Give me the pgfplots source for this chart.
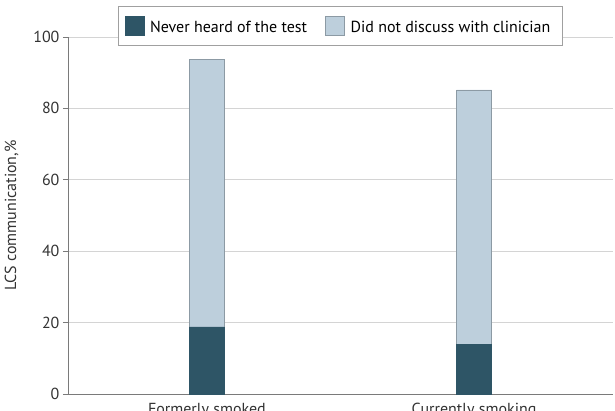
\documentclass[border=0pt]{standalone}
\usepackage{pgfplots}
\pgfplotsset{compat=1.18}
\usepackage{fontspec}
\setmainfont{PT Sans}
\definecolor{darkbar}{HTML}{2E5566}
\definecolor{lightbar}{HTML}{BDCFDC}
\definecolor{baredge}{HTML}{8C9AA4}
\definecolor{gridc}{HTML}{D4D4D4}
\definecolor{axisc}{HTML}{7A7A7A}
\definecolor{legc}{HTML}{A0A0A0}
\definecolor{txt}{HTML}{333333}
\begin{document}
\begin{tikzpicture}
\begin{axis}[
  scale only axis,
  width=545pt, height=357pt,
  at={(0pt,0pt)}, anchor=origin,
  ybar stacked,
  bar width=35pt,
  xmin=0.48, xmax=2.52,
  ymin=0, ymax=100,
  xtick={1,2},
  xticklabels={Formerly smoked, Currently smoking},
  ytick={0,20,40,60,80,100},
  axis lines=left,
  axis line style={-, draw=axisc, line width=0.8pt},
  ymajorgrids,
  grid style={gridc, line width=0.8pt},
  tick align=outside,
  major tick length=5pt,
  ytick style={draw=axisc, line width=0.8pt},
  xtick style={draw=none},
  font=\fontsize{16}{19}\selectfont\color{txt},
  tick label style={font=\fontsize{16}{19}\selectfont, text=txt},
  /pgf/number format/assume math mode=true,
  ylabel={LCS communication,\%},
  ylabel style={font=\fontsize{16}{19}\selectfont, text=txt, yshift=8pt},
  xticklabel style={yshift=-1pt},
  legend columns=2,
  legend style={at={(0.5,1.031)}, anchor=center, draw=legc, fill=white,
    line width=0.8pt, inner xsep=6pt, inner ysep=9pt,
    font=\fontsize{16}{19}\selectfont,
    nodes={inner xsep=6pt},
    /tikz/every even column/.append style={column sep=12pt}},
  legend image code/.code={\draw[#1, line width=0.6pt] (0pt,-7pt) rectangle (19pt,12pt);},
]
\addplot[fill=darkbar, draw=darkbar, line width=0.6pt] coordinates {(1,18.8) (2,14.0)};
\addplot[fill=lightbar, draw=baredge, line width=0.6pt] coordinates {(1,75.0) (2,71.2)};
\legend{Never heard of the test, Did not discuss with clinician}
\end{axis}
\pgfresetboundingbox
\path[use as bounding box] (-68pt,-16pt) rectangle (547pt,394pt);
\end{tikzpicture}
\end{document}
